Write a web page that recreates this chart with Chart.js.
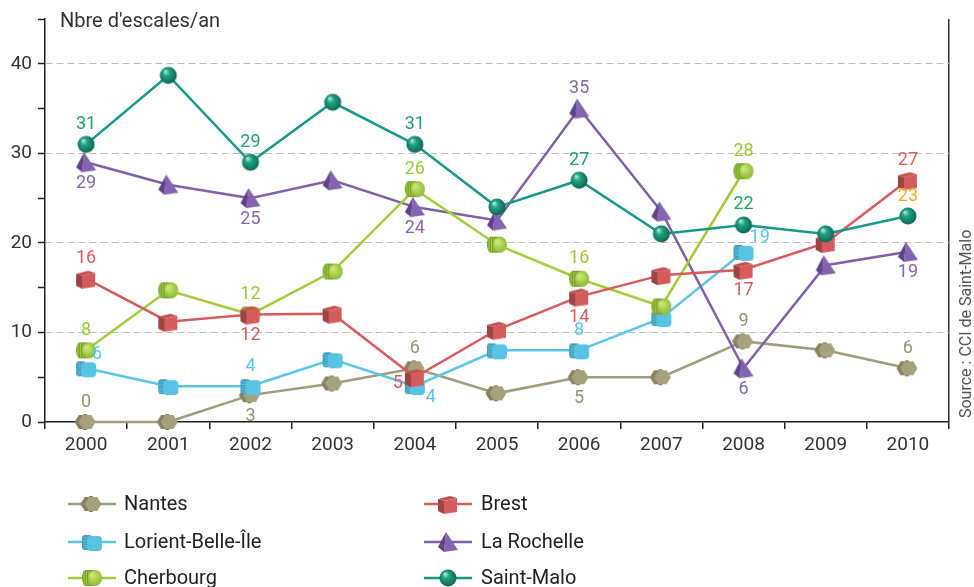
<!DOCTYPE html>
<html><head><meta charset="utf-8">
<script src="https://cdn.jsdelivr.net/npm/chart.js@4"></script>
<style>html,body{margin:0;padding:0;background:#fff}#wrap{width:974px;height:587px;position:relative}</style>
</head><body><div id="wrap"><canvas id="c"></canvas></div>
<script>
// ---- data ----
const years = ['2000','2001','2002','2003','2004','2005','2006','2007','2008','2009','2010'];
const seriesNames = ['Nantes','Lorient-Belle-Île','Cherbourg','Brest','La Rochelle','Saint-Malo'];
const nantes     = [0, 0, 3, 4.3, 6, 3.2, 5, 5, 9, 8, 6];
const lorient    = [6, 4, 4, 7, 4, 8, 8, 11.6, 19, null, null];
const cherbourg  = [8, 14.7, 12, 16.8, 26, 19.8, 16, 12.9, 28, null, null];
const brest      = [16, 11.2, 12, 12.1, 5, 10.3, 14, 16.4, 17, 20, 27];
const laRochelle = [29, 26.5, 25, 27, 24, 22.5, 35, 23.5, 6, 17.5, 19];
const saintMalo  = [31, 38.7, 29, 35.7, 31, 24, 27, 21, 22, 21, 23];
const yTickLabels = [0, 10, 20, 30, 40];
const yAxisTitle = "Nbre d'escales/an";
const sourceText = 'Source : CCI de Saint-Malo';

// which points carry a value label, and where (style, not data)
const nantesLbl     = ['t',null,'b',null,'t',null,'b',null,'t',null,'t'];
const lorientLbl    = ['tr',null,'t',null,'br',null,'t',null,'tr',null,null];
const cherbourgLbl  = ['t',null,'t',null,'t',null,'t',null,'t',null,null];
const brestLbl      = ['t',null,'b',null,'l',null,'b',null,'b',null,'t'];
const laRochelleLbl = ['b',null,'b',null,'b',null,'t',null,'b',null,'b'];
const saintMaloLbl  = ['t',null,'t',null,'t',null,'t',null,'t',null,'t'];

// ---- marker images ----
function mk(w,h,draw){const c=document.createElement('canvas');c.width=w;c.height=h;draw(c.getContext('2d'));return c;}
function poly(g,pts,fill){g.beginPath();g.moveTo(pts[0][0],pts[0][1]);for(let i=1;i<pts.length;i++)g.lineTo(pts[i][0],pts[i][1]);g.closePath();g.fillStyle=fill;g.fill();}
const mSphere = mk(22,22,g=>{const gr=g.createRadialGradient(8,7,0.5,11,11,10);gr.addColorStop(0,'#a8ecd8');gr.addColorStop(0.3,'#22a487');gr.addColorStop(1,'#0a5a48');g.beginPath();g.arc(11,11,8.5,0,Math.PI*2);g.fillStyle=gr;g.fill();});
const mCube = mk(24,24,g=>{poly(g,[[2,7],[8,9],[8,22],[2,19]],'#9d4343');poly(g,[[2,7],[14,4],[21,6],[8,9]],'#c45151');poly(g,[[8,9],[21,6],[21,20],[8,22]],'#d55c5c');});
const mTri = mk(24,24,g=>{poly(g,[[10,2],[22,20],[8,22]],'#8464b0');poly(g,[[10,2],[8,22],[2,17]],'#5e4388');});
const mCyl = mk(26,24,g=>{g.fillStyle='#76a126';g.beginPath();g.ellipse(7,12,4,8,0,Math.PI/2,Math.PI*1.5);g.lineTo(15,4);g.lineTo(15,20);g.closePath();g.fill();g.strokeStyle='#a6cd45';g.lineWidth=1;for(let x=5;x<15;x+=2.5){g.beginPath();g.moveTo(x,5);g.lineTo(x,19);g.stroke();}const gr=g.createRadialGradient(13,9,1,16,12,9);gr.addColorStop(0,'#cbe878');gr.addColorStop(1,'#86b42a');g.beginPath();g.ellipse(16,12,7,8,0,0,Math.PI*2);g.fillStyle=gr;g.fill();});
const mBox = mk(24,24,g=>{g.fillStyle='#3f9dbd';g.beginPath();g.roundRect(2,5,10,15,3);g.fill();g.strokeStyle='#6cc6e0';g.lineWidth=0.8;for(let y=8;y<19;y+=2.5){g.beginPath();g.moveTo(3,y);g.lineTo(9,y);g.stroke();}g.fillStyle='#59c3e4';g.beginPath();g.roundRect(7,6,15,15,4);g.fill();});
function hex(g,cx,cy,r,fill){const p=[];for(let k=0;k<6;k++){const a=Math.PI/3*k;p.push([cx+r*Math.cos(a),cy+r*0.95*Math.sin(a)]);}poly(g,p,fill);}
const mHex = mk(24,24,g=>{hex(g,9,12,8.5,'#86815f');g.fillStyle='#86815f';g.fillRect(9,4,4,16);hex(g,13,12,8.5,'#a6a17d');});

const lineColors  = ['#a09c7c','#58c6e6','#a3cc3a','#d95a5c','#7f60a9','#17998a'];
const labelColors = ['#98936f','#55c8ea','#9acb34','#dd5a5e','#8766ad','#21a26a'];
const markers     = [mHex, mBox, mCyl, mCube, mTri, mSphere];
const drawOrder   = [6, 5, 3, 2, 4, 1];
const seriesData  = [nantes, lorient, cherbourg, brest, laRochelle, saintMalo];
const seriesLbl   = [nantesLbl, lorientLbl, cherbourgLbl, brestLbl, laRochelleLbl, saintMaloLbl];
const labelColorOverride = {'5-10': '#f7a823'};
const FONT = 'Roboto, "DejaVu Sans", sans-serif';

const datasets = seriesNames.map((n,i)=>({
  label:n, data:seriesData[i], borderColor:lineColors[i], backgroundColor:lineColors[i],
  borderWidth:2.5, pointStyle:markers[i], pointRadius:10, pointHoverRadius:10,
  tension:0, clip:false, order:drawOrder[i], spanGaps:false
}));

const decorPlugin = {
  id:'decor',
  afterDatasetsDraw(chart){
    const ctx = chart.ctx;
    ctx.save();
    ctx.font = '18px ' + FONT;
    ctx.textBaseline = 'middle';
    chart.data.datasets.forEach((ds,i)=>{
      const meta = chart.getDatasetMeta(i);
      seriesLbl[i].forEach((pos,j)=>{
        if(!pos || ds.data[j]==null) return;
        const el = meta.data[j];
        let x = el.x, y = el.y, align = 'center';
        if(pos==='t'){ y -= 20; }
        else if(pos==='b'){ y += 21; }
        else if(pos==='tr'){ x += 6; y -= 14; align='left'; }
        else if(pos==='br'){ x += 11; y += 11; align='left'; }
        else if(pos==='l'){ x -= 12; y += 6; align='right'; }
        ctx.textAlign = align;
        ctx.fillStyle = labelColorOverride[i+'-'+j] || labelColors[i];
        ctx.fillText(String(ds.data[j]), x, y);
      });
    });
    ctx.restore();
  },
  afterDraw(chart){
    const ctx = chart.ctx;
    ctx.save();
    // axis title
    ctx.font = '20px ' + FONT; ctx.fillStyle = '#333'; ctx.textAlign='left'; ctx.textBaseline='middle';
    ctx.fillText(yAxisTitle, 60, 22);
    // source
    ctx.translate(967, 418); ctx.rotate(-Math.PI/2);
    ctx.font = '16px ' + FONT; ctx.fillStyle='#555'; ctx.textAlign='left';
    ctx.fillText(sourceText, 0, 0);
    ctx.restore();
    // legend
    ctx.save();
    const cols = [{l:68, r:116, t:124},{l:424, r:472, t:481}];
    const rows = [504, 542, 578];
    chart.data.datasets.forEach((ds,i)=>{
      const c = cols[i<3?0:1], yy = rows[i%3];
      ctx.strokeStyle = ds.borderColor; ctx.lineWidth = 2.5;
      ctx.beginPath(); ctx.moveTo(c.l, yy); ctx.lineTo(c.r, yy); ctx.stroke();
      const m = ds.pointStyle; ctx.drawImage(m, (c.l+c.r)/2 - m.width/2, yy - m.height/2);
      ctx.font = '20px ' + FONT; ctx.fillStyle = '#222'; ctx.textAlign='left'; ctx.textBaseline='middle';
      ctx.fillText(ds.label, c.t, yy + 1);
    });
    ctx.restore();
  }
};

new Chart(document.getElementById('c'), {
  type:'line',
  data:{ labels:years, datasets },
  options:{
    responsive:true, maintainAspectRatio:false, animation:false,
    events:[],
    layout:{ padding:{ left:0, right:25, top:19, bottom:0 } },
    plugins:{ legend:{display:false}, tooltip:{enabled:false}, title:{display:false} },
    scales:{
      x:{
        type:'category', offset:true,
        grid:{ offset:true, drawOnChartArea:true, lineWidth:1.5,
               color:c=> c.type==='scale' ? '#333' : 'rgba(0,0,0,0)',
               tickColor:'#222', tickLength:7, tickWidth:1.5 },
        border:{ color:'#222', width:1.5 },
        ticks:{ font:{family:FONT, size:19}, color:'#333', padding:5, maxRotation:0, autoSkip:false },
        afterFit(s){ s.height = 165; }
      },
      y:{
        min:0, max:45,
        grid:{ lineWidth:1,
               color:c=> (c.tick && c.tick.value>0 && c.tick.value<45 && yTickLabels.includes(c.tick.value)) ? '#bdbdbd' : 'rgba(0,0,0,0)',
               tickColor:'#222', tickLength:7, tickWidth:1.5 },
        border:{ color:'#222', width:1.5, dash:[7,4] },
        ticks:{ stepSize:5, font:{family:FONT, size:19}, color:'#333', padding:6,
                callback:v=> yTickLabels.includes(v) ? String(v) : '' },
        afterFit(s){ s.width = 45; }
      }
    }
  },
  plugins:[decorPlugin]
});
</script>
</body></html>
